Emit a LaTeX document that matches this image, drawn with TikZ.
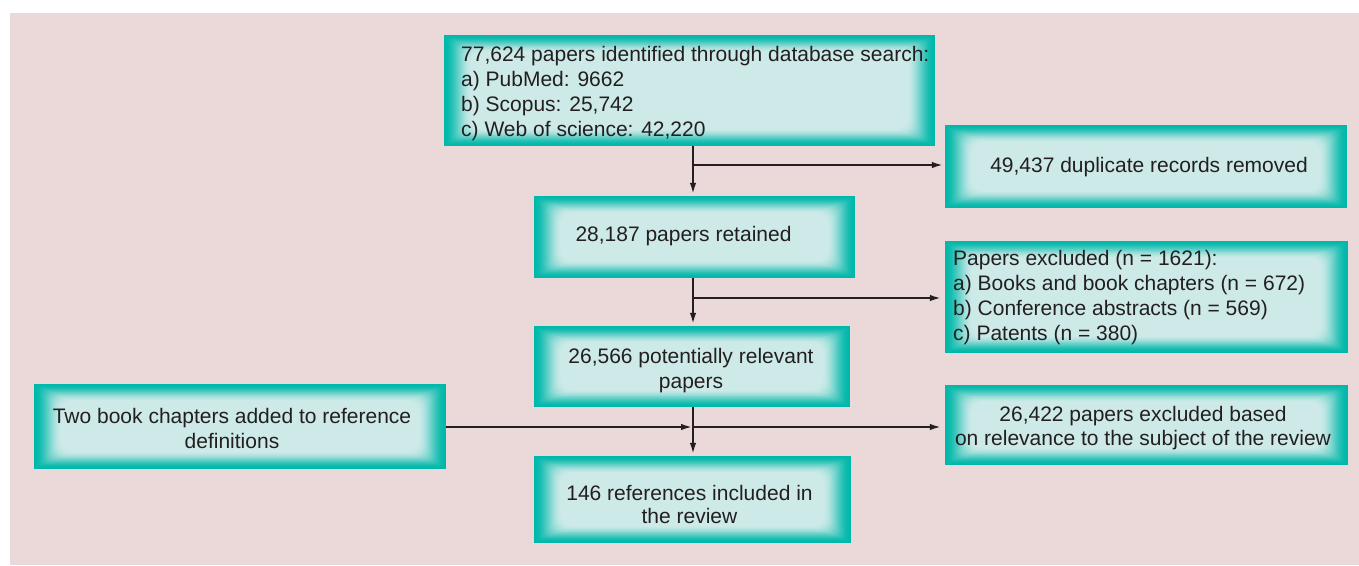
\documentclass[tikz,border=0pt]{standalone}
\usepackage{fontspec}
\setmainfont{Liberation Sans}
\usetikzlibrary{arrows.meta}
\definecolor{bgpink}{RGB}{235,216,216}
\definecolor{tdark}{RGB}{0,184,170}
\definecolor{tlight}{RGB}{205,234,232}
\definecolor{txt}{RGB}{35,31,32}
\tikzset{
  tbox/.style n args={2}{rectangle, inner sep=0pt, minimum width=#1, minimum height=#2,
    path picture={
      \fill[tdark] (path picture bounding box.south west) rectangle (path picture bounding box.north east);
      \foreach \i in {1,...,28}{
        \pgfmathsetmacro\x{\i/28}
        \pgfmathsetmacro\m{100*\x*\x*(3-2*\x)}
        \pgfmathsetmacro\rr{0.45*\i}
        \fill[tlight!\m!tdark, rounded corners=\rr pt]
          ([xshift={1.0*\i pt}, yshift={0.62*\i pt}]path picture bounding box.south west)
          rectangle
          ([xshift={-1.0*\i pt}, yshift={-0.62*\i pt}]path picture bounding box.north east);
      }
    }},
  lbl/.style={inner sep=0pt, text=txt, font=\fontsize{21}{25}\selectfont},
  arr/.style={draw=txt, line width=1.8pt, -{Latex[length=11pt,width=6.5pt]}},
}
\begin{document}
\begin{tikzpicture}[x=1pt,y=-1pt]
\useasboundingbox (0,0) rectangle (1359,565);
\fill[bgpink] (10,13) rectangle (1359,565);

% boxes
\node[tbox={491pt}{111pt}] (top) at (689.5,90.5) {};
\node[tbox={321pt}{82pt}]  (ret) at (694.5,237) {};
\node[tbox={402pt}{83pt}]  (dup) at (1146,166.5) {};
\node[tbox={403pt}{112pt}] (exc) at (1146.5,297) {};
\node[tbox={316pt}{81pt}]  (pot) at (692,366.5) {};
\node[tbox={412pt}{85pt}]  (lft) at (240,426.5) {};
\node[tbox={403pt}{80pt}]  (rel) at (1146.5,425) {};
\node[tbox={317pt}{87pt}]  (fin) at (692.5,499.5) {};

% texts
\node[lbl, anchor=north west, align=left] (top-t) at (461,46.4)
  {77,624 papers identified through database search:\\a) PubMed: 9662\\b) Scopus: 25,742\\c) Web of science: 42,220};
\node[lbl, anchor=base] (ret-t) at (683.5,241.7) {28,187 papers retained};
\node[lbl, anchor=base] (dup-t) at (1149,172.3) {49,437 duplicate records removed};
\node[lbl, anchor=north west, align=left] (exc-t) at (953,249.7)
  {Papers excluded (n = 1621):\\a) Books and book chapters (n = 672)\\b) Conference abstracts (n = 569)\\c) Patents (n = 380)};
\node[lbl, anchor=north, align=center] (pot-t) at (691,348)
  {26,566 potentially relevant\\papers};
\node[lbl, anchor=north, align=center] (lft-t) at (232,408)
  {Two book chapters added to reference\\definitions};
\node[lbl, anchor=north, align=center, font=\fontsize{21}{23.5}\selectfont] (rel-t) at (1143,406.4)
  {26,422 papers excluded based\\on relevance to the subject of the review};
\node[lbl, anchor=north, align=center, font=\fontsize{21}{23}\selectfont] (fin-t) at (689.5,484.7)
  {146 references included in\\the review};

% connectors
\coordinate (j1) at (693,165);
\coordinate (j2) at (693,298);
\coordinate (j3) at (693,427);
\draw[arr, shorten >=2pt] (j1 |- top.south) -- (j1 |- ret.north);
\draw[arr, shorten >=2pt] (j1) -- (j1 -| dup.west);
\draw[arr, shorten >=2pt] (j2 |- ret.south) -- (j2 |- pot.north);
\draw[arr, shorten >=4pt] (j2) -- (j2 -| exc.west);
\draw[arr, shorten >=2pt] (j3 |- pot.south) -- (j3 |- fin.north);
\draw[arr, shorten >=1pt] (lft.east |- j3) -- (j3);
\draw[arr, shorten >=4pt] (j3) -- (j3 -| rel.west);
\end{tikzpicture}
\end{document}
